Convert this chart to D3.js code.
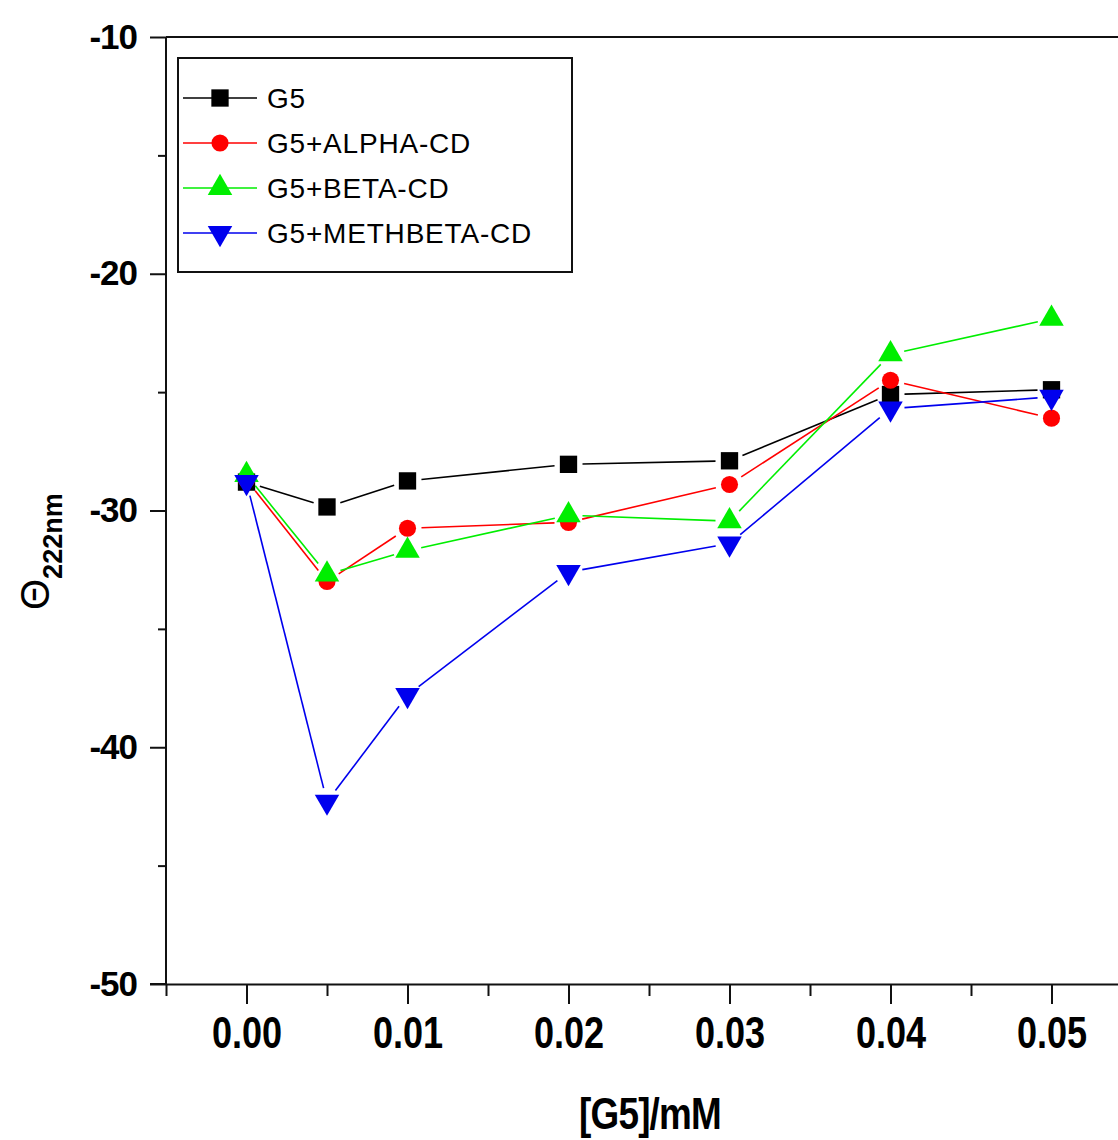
<!DOCTYPE html>
<html>
<head>
<meta charset="utf-8">
<script src="https://cdn.jsdelivr.net/npm/d3@7"></script>
<style>
  html, body { margin: 0; padding: 0; background: #fff; }
  svg { display: block; }
</style>
</head>
<body>
<div id="chart"></div>
<script>
// ---- data ----
const concentrations = [0, 0.005, 0.01, 0.02, 0.03, 0.04, 0.05];
const seriesNames = ["G5", "G5+ALPHA-CD", "G5+BETA-CD", "G5+METHBETA-CD"];
const g5 =        [-28.8, -29.85, -28.75, -28.05, -27.9, -25.1, -24.9];
const g5Alpha =   [-28.7, -33.0, -30.75, -30.5, -28.9, -24.5, -26.1];
const g5Beta =    [-28.5, -32.7, -31.7, -30.2, -30.45, -23.4, -21.9];
const g5Meth =    [-28.8, -42.3, -37.8, -32.6, -31.4, -25.7, -25.2];
const seriesColors = ["#000000", "#ff0000", "#00ee00", "#0000ee"];
const seriesSymbols = ["square", "circle", "triangleUp", "triangleDown"];
const xTicks = [0, 0.01, 0.02, 0.03, 0.04, 0.05];
const xMinorTicks = [-0.005, 0.005, 0.015, 0.025, 0.035, 0.045];
const yTicks = [-10, -20, -30, -40, -50];
const yMinorTicks = [-15, -25, -35, -45];
const xTitle = "[G5]/mM";
const yTitleMain = "Θ";
const yTitleSub = "222nm";

const W = 1118, H = 1140;
const svg = d3.select("#chart").append("svg").attr("width", W).attr("height", H);

const x = d3.scaleLinear().domain([-0.005, 0.055]).range([166, 1132]);
const y = d3.scaleLinear().domain([-50, -10]).range([984, 37]);

const axisColor = "#111";
const sans = "'Liberation Sans', Arial, sans-serif";

// frame
svg.append("line").attr("x1", x(-0.005)).attr("x2", x(0.055)).attr("y1", y(-10)).attr("y2", y(-10))
  .attr("stroke", axisColor).attr("stroke-width", 2);
svg.append("line").attr("x1", x(-0.005)).attr("x2", x(-0.005)).attr("y1", y(-10)).attr("y2", y(-50))
  .attr("stroke", axisColor).attr("stroke-width", 2);

// bottom axis
const xAxis = d3.axisBottom(x).tickValues(xTicks).tickSize(20).tickSizeOuter(0).tickPadding(13)
  .tickFormat(d3.format(".2f"));
const gx = svg.append("g").attr("transform", `translate(0,${y(-50)})`).call(xAxis);
gx.select(".domain").attr("stroke", axisColor).attr("stroke-width", 2);
gx.selectAll(".tick line").attr("stroke", axisColor).attr("stroke-width", 2);
gx.selectAll(".tick text").attr("font-family", sans)
  .attr("font-weight", "bold").attr("font-size", 44).attr("fill", "#000")
  .attr("transform", "scale(0.82,1)");
const gxm = svg.append("g").attr("transform", `translate(0,${y(-50)})`)
  .call(d3.axisBottom(x).tickValues(xMinorTicks).tickSize(12).tickFormat(""));
gxm.select(".domain").remove();
gxm.selectAll(".tick line").attr("stroke", axisColor).attr("stroke-width", 2);
svg.append("line").attr("x1", x(-0.005) - 16).attr("x2", x(-0.005)).attr("y1", y(-50)).attr("y2", y(-50))
  .attr("stroke", axisColor).attr("stroke-width", 2);

// left axis
const yAxis = d3.axisLeft(y).tickValues(yTicks).tickSize(16).tickSizeOuter(0).tickPadding(13)
  .tickFormat(d => String(d));
const gy = svg.append("g").attr("transform", `translate(${x(-0.005)},0)`).call(yAxis);
gy.select(".domain").remove();
gy.selectAll(".tick line").attr("stroke", axisColor).attr("stroke-width", 2);
gy.selectAll(".tick text").attr("font-family", sans)
  .attr("font-weight", "bold").attr("font-size", 35).attr("fill", "#000").attr("letter-spacing", -1);
const gym = svg.append("g").attr("transform", `translate(${x(-0.005)},0)`)
  .call(d3.axisLeft(y).tickValues(yMinorTicks).tickSize(8).tickFormat(""));
gym.select(".domain").remove();
gym.selectAll(".tick line").attr("stroke", axisColor).attr("stroke-width", 2);

// axis titles
svg.append("g").attr("transform", "translate(650,1129)")
  .append("text").attr("text-anchor", "middle").attr("transform", "scale(0.82,1)")
  .attr("font-family", sans).attr("font-weight", "bold")
  .attr("font-size", 45).attr("letter-spacing", -1).text(xTitle);
const yt = svg.append("text").attr("transform", "translate(49,610) rotate(-90)")
  .attr("font-family", sans).attr("font-weight", "bold");
yt.append("tspan").attr("font-size", 40).attr("font-weight", "normal").text(yTitleMain);
yt.append("tspan").attr("font-size", 27).attr("dy", 13).text(yTitleSub);

// symbols
const symbolMap = {
  square: d3.symbolSquare,
  circle: d3.symbolCircle,
  triangleUp: d3.symbolTriangle,
  triangleDown: d3.symbolTriangle
};
const symbolSizes = { square: 300, circle: 230, triangleUp: 260, triangleDown: 260 };
function drawMarker(g, sym, color, cx, cy) {
  g.append("path")
    .attr("d", d3.symbol().type(symbolMap[sym]).size(symbolSizes[sym])())
    .attr("transform", `translate(${cx},${cy})` + (sym === "triangleDown" ? " rotate(180)" : ""))
    .attr("fill", color);
}

const allSeries = [g5, g5Alpha, g5Beta, g5Meth];
const gap = 14;
const plot = svg.append("g");
allSeries.forEach((vals, si) => {
  const color = seriesColors[si];
  const pts = concentrations.map((c, i) => [x(c), y(vals[i])]);
  for (let i = 0; i < pts.length - 1; i++) {
    const [x1, y1] = pts[i], [x2, y2] = pts[i + 1];
    const len = Math.hypot(x2 - x1, y2 - y1);
    if (len <= 2 * gap) continue;
    const ux = (x2 - x1) / len, uy = (y2 - y1) / len;
    plot.append("line")
      .attr("x1", x1 + ux * gap).attr("y1", y1 + uy * gap)
      .attr("x2", x2 - ux * gap).attr("y2", y2 - uy * gap)
      .attr("stroke", color).attr("stroke-width", 1.6);
  }
});
allSeries.forEach((vals, si) => {
  concentrations.forEach((c, i) => drawMarker(plot, seriesSymbols[si], seriesColors[si], x(c), y(vals[i])));
});

// legend
const legend = svg.append("g");
legend.append("rect").attr("x", 178).attr("y", 58).attr("width", 394).attr("height", 214)
  .attr("fill", "#fff").attr("stroke", "#111").attr("stroke-width", 2);
const rowY = [98, 143, 188, 233];
seriesNames.forEach((name, i) => {
  legend.append("line").attr("x1", 183).attr("x2", 257).attr("y1", rowY[i]).attr("y2", rowY[i])
    .attr("stroke", seriesColors[i]).attr("stroke-width", 1.6);
  drawMarker(legend, seriesSymbols[i], seriesColors[i], 220, rowY[i]);
  legend.append("text").attr("x", 267).attr("y", rowY[i] + 10)
    .attr("font-family", sans).attr("font-size", 28)
    .attr("letter-spacing", 0.8).text(name);
});
</script>
</body>
</html>
